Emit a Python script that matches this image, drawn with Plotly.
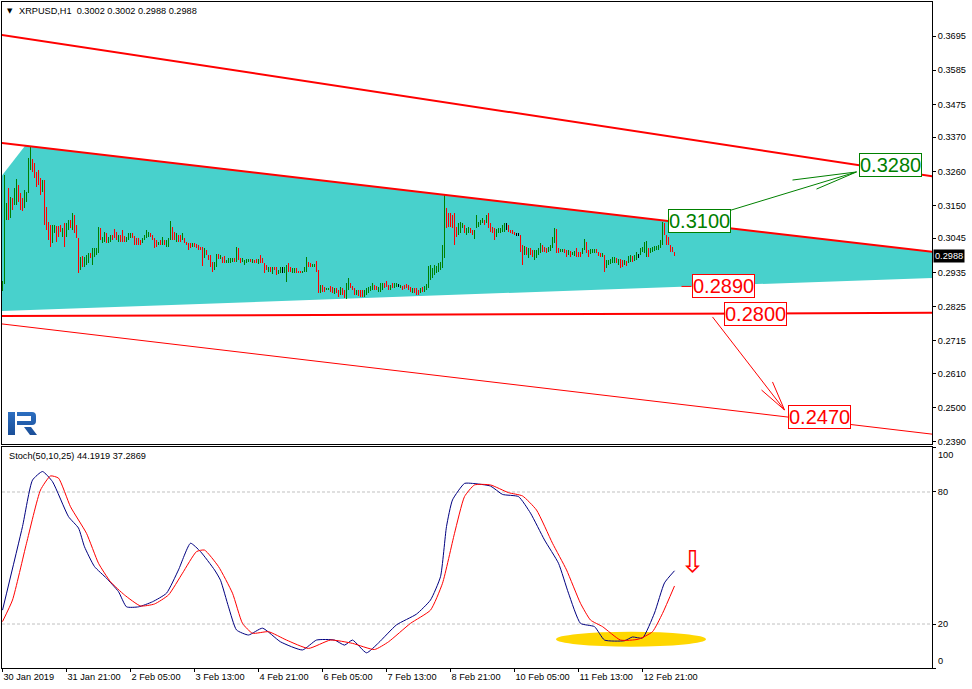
import base64
import plotly.graph_objects as go

# ---------------- data ----------------
# XRPUSD H1 bars, x = hours since 30 Jan 2019 13:00
bar_high = [
    0.2909, 0.3248, 0.3157, 0.3205, 0.3179, 0.3173, 0.3205, 0.3235, 0.3216, 0.3189,
    0.3173, 0.3200, 0.3195, 0.3302, 0.3339, 0.3299, 0.3286, 0.3259, 0.3264, 0.3238,
    0.3232, 0.3232, 0.3146, 0.3098, 0.3088, 0.3088, 0.3088, 0.3084, 0.3084, 0.3088,
    0.3077, 0.3093, 0.3093, 0.3104, 0.3104, 0.3125, 0.3120, 0.3088, 0.3045, 0.2986,
    0.2988, 0.2986, 0.2991, 0.2996, 0.2996, 0.3013, 0.3013, 0.3013, 0.3082, 0.3077,
    0.3050, 0.3066, 0.3061, 0.3050, 0.3055, 0.3055, 0.3074, 0.3066, 0.3055, 0.3055,
    0.3071, 0.3052, 0.3050, 0.3061, 0.3061, 0.3063, 0.3052, 0.3045, 0.3045, 0.3039,
    0.3045, 0.3055, 0.3071, 0.3066, 0.3063, 0.3055, 0.3045, 0.3039, 0.3034, 0.3039,
    0.3050, 0.3039, 0.3039, 0.3045, 0.3100, 0.3082, 0.3066, 0.3061, 0.3055, 0.3055,
    0.3061, 0.3045, 0.3034, 0.3029, 0.3029, 0.3029, 0.3031, 0.3025, 0.3023, 0.3018,
    0.3018, 0.3013, 0.3007, 0.2991, 0.2991, 0.2970, 0.2970, 0.2994, 0.2994, 0.2991,
    0.2986, 0.2988, 0.2975, 0.2980, 0.2980, 0.2980, 0.2980, 0.3018, 0.3013, 0.2980,
    0.2980, 0.2975, 0.2977, 0.2977, 0.2977, 0.2977, 0.2975, 0.2977, 0.2977, 0.2991,
    0.2980, 0.2966, 0.2959, 0.2954, 0.2954, 0.2954, 0.2954, 0.2954, 0.2943, 0.2954,
    0.2954, 0.2954, 0.2959, 0.2966, 0.2954, 0.2948, 0.2948, 0.2948, 0.2941, 0.2941,
    0.2941, 0.2954, 0.2986, 0.2970, 0.2964, 0.2962, 0.2962, 0.2973, 0.2943, 0.2895,
    0.2895, 0.2889, 0.2884, 0.2884, 0.2891, 0.2887, 0.2884, 0.2884, 0.2879, 0.2887,
    0.2884, 0.2879, 0.2900, 0.2916, 0.2900, 0.2891, 0.2884, 0.2879, 0.2879, 0.2879,
    0.2879, 0.2877, 0.2884, 0.2887, 0.2891, 0.2900, 0.2895, 0.2891, 0.2889, 0.2900,
    0.2900, 0.2900, 0.2908, 0.2895, 0.2895, 0.2900, 0.2900, 0.2900, 0.2898, 0.2895,
    0.2891, 0.2895, 0.2898, 0.2895, 0.2887, 0.2884, 0.2884, 0.2884, 0.2879, 0.2884,
    0.2889, 0.2891, 0.2898, 0.2956, 0.2959, 0.2948, 0.2959, 0.2956, 0.2964, 0.2970,
    0.3023, 0.3184, 0.3141, 0.3125, 0.3125, 0.3120, 0.3125, 0.3082, 0.3093, 0.3098,
    0.3095, 0.3088, 0.3077, 0.3082, 0.3077, 0.3071, 0.3071, 0.3120, 0.3098, 0.3104,
    0.3109, 0.3104, 0.3120, 0.3125, 0.3093, 0.3082, 0.3077, 0.3074, 0.3077, 0.3077,
    0.3088, 0.3093, 0.3093, 0.3088, 0.3071, 0.3071, 0.3066, 0.3061, 0.3061, 0.3055,
    0.3023, 0.3020, 0.3018, 0.3013, 0.3013, 0.3007, 0.3007, 0.3007, 0.3013, 0.3029,
    0.3023, 0.3018, 0.3013, 0.3018, 0.3023, 0.3050, 0.3077, 0.3074, 0.3013, 0.3009,
    0.3009, 0.3009, 0.3007, 0.3007, 0.3005, 0.3002, 0.3005, 0.3013, 0.3002, 0.3002,
    0.3013, 0.3042, 0.3034, 0.3007, 0.3009, 0.3009, 0.3009, 0.3009, 0.3002, 0.2999,
    0.2997, 0.2991, 0.2975, 0.2975, 0.2977, 0.2984, 0.2984, 0.2980, 0.2977, 0.2977,
    0.2975, 0.2975, 0.2973, 0.2988, 0.2991, 0.2988, 0.2991, 0.3002, 0.2995, 0.3013,
    0.3018, 0.3034, 0.3037, 0.3013, 0.3013, 0.3018, 0.3020, 0.3020, 0.3023, 0.3039,
    0.3098, 0.3095, 0.3055, 0.3050, 0.3023, 0.3018, 0.3002,
]
bar_low = [
    0.2876, 0.2898, 0.3104, 0.3104, 0.3109, 0.3136, 0.3152, 0.3152, 0.3163, 0.3136,
    0.3133, 0.3141, 0.3163, 0.3189, 0.3264, 0.3259, 0.3238, 0.3211, 0.3216, 0.3184,
    0.3195, 0.3088, 0.3071, 0.3039, 0.3016, 0.3029, 0.3061, 0.3034, 0.3050, 0.3066,
    0.3050, 0.3016, 0.3048, 0.3071, 0.3077, 0.3071, 0.3061, 0.3045, 0.2932, 0.2943,
    0.2954, 0.2954, 0.2959, 0.2966, 0.2980, 0.2959, 0.2986, 0.2991, 0.2996, 0.3039,
    0.3029, 0.3034, 0.3029, 0.3029, 0.3034, 0.3039, 0.3045, 0.3039, 0.3034, 0.3034,
    0.3034, 0.3034, 0.3034, 0.3039, 0.3045, 0.3045, 0.3023, 0.3023, 0.3023, 0.3023,
    0.3029, 0.3039, 0.3045, 0.3050, 0.3050, 0.3039, 0.3013, 0.3018, 0.3023, 0.3023,
    0.3023, 0.3023, 0.3018, 0.3018, 0.3039, 0.3039, 0.3039, 0.3034, 0.3034, 0.3034,
    0.3039, 0.3029, 0.3023, 0.3007, 0.3013, 0.3018, 0.3018, 0.3013, 0.3007, 0.3007,
    0.2956, 0.2980, 0.2991, 0.2975, 0.2954, 0.2938, 0.2943, 0.2951, 0.2977, 0.2977,
    0.2966, 0.2966, 0.2966, 0.2966, 0.2966, 0.2969, 0.2970, 0.2970, 0.2975, 0.2966,
    0.2970, 0.2959, 0.2966, 0.2970, 0.2970, 0.2966, 0.2964, 0.2964, 0.2962, 0.2966,
    0.2964, 0.2934, 0.2943, 0.2938, 0.2938, 0.2930, 0.2943, 0.2927, 0.2930, 0.2932,
    0.2934, 0.2932, 0.2905, 0.2938, 0.2938, 0.2934, 0.2934, 0.2934, 0.2934, 0.2932,
    0.2934, 0.2938, 0.2938, 0.2951, 0.2951, 0.2951, 0.2951, 0.2938, 0.2868, 0.2870,
    0.2873, 0.2873, 0.2879, 0.2879, 0.2873, 0.2868, 0.2866, 0.2868, 0.2857, 0.2863,
    0.2863, 0.2852, 0.2849, 0.2879, 0.2884, 0.2879, 0.2863, 0.2863, 0.2859, 0.2857,
    0.2857, 0.2857, 0.2863, 0.2870, 0.2876, 0.2879, 0.2879, 0.2879, 0.2873, 0.2873,
    0.2879, 0.2884, 0.2889, 0.2879, 0.2879, 0.2884, 0.2884, 0.2889, 0.2889, 0.2884,
    0.2879, 0.2881, 0.2884, 0.2879, 0.2873, 0.2868, 0.2868, 0.2863, 0.2863, 0.2868,
    0.2873, 0.2873, 0.2879, 0.2884, 0.2911, 0.2916, 0.2927, 0.2934, 0.2938, 0.2943,
    0.2948, 0.2980, 0.3077, 0.3082, 0.3082, 0.3077, 0.3023, 0.3050, 0.3055, 0.3061,
    0.3077, 0.3061, 0.3055, 0.3061, 0.3061, 0.3055, 0.3041, 0.3077, 0.3082, 0.3088,
    0.3093, 0.3088, 0.3093, 0.3077, 0.3066, 0.3061, 0.3039, 0.3050, 0.3061, 0.3063,
    0.3066, 0.3066, 0.3071, 0.3066, 0.3061, 0.3059, 0.3055, 0.3055, 0.3055, 0.3002,
    0.2959, 0.2991, 0.2991, 0.2980, 0.2991, 0.2986, 0.2975, 0.2980, 0.2991, 0.2999,
    0.3002, 0.3002, 0.2996, 0.3002, 0.3005, 0.3013, 0.3029, 0.2996, 0.2996, 0.3002,
    0.3002, 0.2996, 0.2984, 0.2991, 0.2986, 0.2991, 0.2988, 0.2986, 0.2984, 0.2986,
    0.2995, 0.3007, 0.2996, 0.2984, 0.2995, 0.2998, 0.2998, 0.2996, 0.2988, 0.2986,
    0.2984, 0.2938, 0.2948, 0.2959, 0.2962, 0.2966, 0.2966, 0.2964, 0.2959, 0.2948,
    0.2954, 0.2959, 0.2956, 0.2966, 0.2970, 0.2970, 0.2972, 0.2975, 0.2980, 0.2991,
    0.3002, 0.2996, 0.2986, 0.2986, 0.2999, 0.3002, 0.3005, 0.3007, 0.3007, 0.3013,
    0.3023, 0.3055, 0.3023, 0.3023, 0.3002, 0.3002, 0.2988,
]
# u = bull bar, d = bear bar, n = unchanged
bar_dir = "".join([
    "uuududuudd", "duuuuddddd", "udddduuddd", "uduududddu", "duuuduuuud",
    "uuduudddud", "dduuuddddd", "uuuuddddud", "uduuuddudd", "uddddudddd",
    "dudddduudu", "dduuuududd", "uuuududdud", "dddududduu", "nuudduuddd",
    "uuudduuddu", "dduu",
    "dduddudduu", "ddduddduuu", "uudduuuddd", "uduunudddd", "duddduduuu",
    "uuuuuuuudd", "dddduuuduu", "dduuuuudud", "ddduuuuund", "dddnnddudu",
    "dduuuudddu", "uuudduuddu", "duuddduudd", "uuuddduduu", "uuududdudu",
    "uduunuuuud", "uuuuuuuddd", "ddd",
])
bar_hours = list(range(len(bar_high)))
last_bar = {"open": 0.3002, "high": 0.3002, "low": 0.2988, "close": 0.2988}

x_tick_hours = [0, 32, 64, 96, 128, 160, 192, 224, 256, 288, 320]
x_tick_text = ["30 Jan 2019", "31 Jan 21:00", "2 Feb 05:00", "3 Feb 13:00", "4 Feb 21:00",
               "6 Feb 05:00", "7 Feb 13:00", "8 Feb 21:00", "10 Feb 05:00", "11 Feb 13:00",
               "12 Feb 21:00"]
price_ticks = [0.3695, 0.3585, 0.3475, 0.3370, 0.3260, 0.3150, 0.3045,
               0.2935, 0.2825, 0.2715, 0.2610, 0.2500, 0.2390]

# chart objects (hour, price)
triangle_hours = [-54.4, 11.4, 550.6]
triangle_prices = [0.2799, 0.3343, 0.2937]
line_channel_top = ([-1, 465], [0.3699, 0.3244])
line_triangle_top = ([-1, 465], [0.3352, 0.3001])
line_level_2800 = ([-1, 465], [0.2795, 0.2805])
line_channel_bottom = ([-1, 465], [0.2770, 0.2415])
line_label_2890 = ([339.5, 344.5], [0.2890, 0.2890])
arrow_up = ([359.5, 427, None, 395, 427, None, 407, 427],
            [0.3126, 0.3258, None, 0.3232, 0.3258, None, 0.3203, 0.3258])
arrow_down = ([355, 391, None, 379.5, 391, None, 385, 391],
              [0.2792, 0.2493, None, 0.2557, 0.2493, None, 0.2583, 0.2493])
target_labels = ["0.3280", "0.3100", "0.2890", "0.2800", "0.2470"]
target_hours = [443.75, 348.5, 360.25, 376.5, 408.5]
target_prices = [0.3280, 0.3100, 0.2890, 0.2800, 0.2470]
target_colors = ["#008000", "#008000", "#FF0000", "#FF0000", "#FF0000"]

# Stochastic (50,10,25)
stoch_main_hours = [0, 10, 15, 20, 25, 33, 38, 41, 46, 52, 58, 62, 68, 75, 82, 88, 94, 99, 106, 109,
                    113, 117, 123, 130, 139, 150, 157, 166, 171, 175, 182, 188, 197, 207, 214,
                    219, 222, 225, 231, 235, 244, 250, 258, 264, 271, 278, 283, 289, 296, 301,
                    311, 315, 320, 326, 331, 336]
stoch_main_vals = [26.3, 64.3, 85.4, 89.3, 84.7, 68.8, 63.6, 55.1, 46.1, 40.8, 34.7, 27.8, 27.8,
                   30.1, 34.0, 44.6, 56.7, 52.9, 44.6, 39.9, 27.8, 17.3, 15.0, 18.1, 11.9, 8.2,
                   12.7, 12.7, 10.4, 12.7, 6.9, 11.4, 19.6, 24.5, 30.9, 41.5, 64.3, 76.4, 83.9,
                   83.9, 82.7, 78.9, 77.9, 70.4, 58.2, 47.6, 34.0, 20.3, 18.8, 12.7, 12.4, 14.1,
                   13.6, 25.0, 38.7, 44.1919]
stoch_sig_hours = [0, 5, 12, 19, 24, 28, 34, 42, 48, 54, 61, 69, 76, 83, 90, 97, 101, 108, 115, 120,
                   125, 133, 142, 153, 164, 175, 186, 193, 204, 214, 220, 226, 231, 236, 244,
                   253, 260, 267, 275, 282, 289, 294, 300, 309, 318, 325, 330, 336]
stoch_sig_vals = [21.1, 30.9, 56.7, 80.9, 87.3, 86.3, 73.3, 61.2, 47.6, 39.2, 33.2, 28.2, 29.1,
                  33.2, 43.1, 52.9, 53.6, 46.1, 34.0, 20.3, 15.8, 16.5, 12.7, 8.9, 12.7, 11.2,
                  8.4, 11.9, 20.3, 26.3, 38.5, 61.2, 77.9, 83.2, 83.2, 79.7, 78.2, 71.8, 56.7,
                  44.6, 29.4, 21.8, 18.8, 12.7, 13.1, 16.5, 24.8, 37.2869]
stoch_levels = [20, 80]
stoch_ticks = [0, 20, 80, 100]
ellipse_hours = [276.75, 351.75]
ellipse_vals = [9.7, 16.5]
sell_arrow = (344.75, 48.4)

# ---------------- layout helpers ----------------
W, H = 972, 689
ML, MR, MT, MB = 2, 40, 2, 21
PW, PH = W - ML - MR, H - MT - MB


def px_x(px):
    return (px - ML) / PW


def px_y(py):
    return (H - MB - py) / PH


FONT = "Liberation Sans, Arial, sans-serif"
TICKFONT = dict(family=FONT, size=9.2, color="black")
assert len(bar_high) == len(bar_low) == len(bar_dir)

colors = {"u": "#008000", "d": "#FF0000", "n": "#000000"}
fig = go.Figure()

# bars
fig.add_trace(go.Bar(x=bar_hours, y=[h - l for h, l in zip(bar_high, bar_low)], base=bar_low,
                     width=0.5, marker=dict(color=[colors[c] for c in bar_dir], line=dict(width=0)),
                     xaxis="x2", yaxis="y2", hoverinfo="skip"))
# lines
for (lx, ly), w in [(line_channel_top, 2), (line_triangle_top, 2), (line_level_2800, 2),
                    (line_channel_bottom, 1), (line_label_2890, 1)]:
    fig.add_trace(go.Scatter(x=lx, y=ly, mode="lines", line=dict(color="#FF0000", width=w),
                             xaxis="x2", yaxis="y2", hoverinfo="skip"))
fig.add_trace(go.Scatter(x=arrow_up[0], y=arrow_up[1], mode="lines",
                         line=dict(color="#008000", width=1), xaxis="x2", yaxis="y2"))
fig.add_trace(go.Scatter(x=arrow_down[0], y=arrow_down[1], mode="lines",
                         line=dict(color="#FF0000", width=1), xaxis="x2", yaxis="y2"))

# stochastic
fig.add_trace(go.Scatter(x=stoch_main_hours, y=stoch_main_vals, mode="lines",
                         line=dict(color="#000080", width=1, shape="spline", smoothing=0.5),
                         xaxis="x", yaxis="y"))
fig.add_trace(go.Scatter(x=stoch_sig_hours, y=stoch_sig_vals, mode="lines",
                         line=dict(color="#FF0000", width=1, shape="spline", smoothing=0.5),
                         xaxis="x", yaxis="y"))

shapes = []
# triangle object (background) and bid line
tri_path = "M %s Z" % " L ".join("%g,%g" % (tx, ty) for tx, ty in zip(triangle_hours, triangle_prices))
shapes.append(dict(type="path", xref="x2", yref="y2", path=tri_path, fillcolor="#48D1CC",
                   line=dict(width=0), layer="below"))
shapes.append(dict(type="line", xref="x2 domain", yref="y2", x0=0, x1=1, y0=last_bar["close"],
                   y1=last_bar["close"], line=dict(color="#C0C0C0", width=1), layer="below"))
for lv in stoch_levels:
    shapes.append(dict(type="line", xref="x domain", yref="y", x0=0, x1=1, y0=lv, y1=lv,
                       line=dict(color="#C0C0C0", width=1, dash="3px,2px"), layer="below"))
shapes.append(dict(type="circle", xref="x", yref="y", x0=ellipse_hours[0], x1=ellipse_hours[1],
                   y0=ellipse_vals[0], y1=ellipse_vals[1], fillcolor="#FFD700",
                   line=dict(width=0), layer="below"))

annotations = []
for t, hx, py, c in zip(target_labels, target_hours, target_prices, target_colors):
    annotations.append(dict(text=t, x=hx, y=py, xref="x2", yref="y2", showarrow=False,
                            font=dict(family=FONT, size=20, color=c), bgcolor="white",
                            bordercolor=c, borderwidth=1, borderpad=0,
                            xanchor="center", yanchor="middle"))
annotations.append(dict(text="\u21e9", x=sell_arrow[0], y=sell_arrow[1], xref="x", yref="y",
                        showarrow=False, font=dict(family="DejaVu Sans", size=30, color="#FF0000")))
annotations.append(dict(text="XRPUSD,H1\u00a0\u00a0%.4f %.4f %.4f %.4f" % (
    last_bar["open"], last_bar["high"], last_bar["low"], last_bar["close"]),
    x=px_x(17), y=px_y(10.5), xref="paper", yref="paper", showarrow=False,
    xanchor="left", yanchor="middle", font=TICKFONT))
annotations.append(dict(text="\u25bc", x=px_x(9.5), y=px_y(10.5), xref="paper", yref="paper",
                        showarrow=False, xanchor="center", yanchor="middle",
                        font=dict(family="DejaVu Sans", size=7, color="black")))
annotations.append(dict(text="Stoch(50,10,25) %.4f %.4f" % (stoch_main_vals[-1], stoch_sig_vals[-1]),
                        x=px_x(7), y=px_y(456), xref="paper", yref="paper", showarrow=False,
                        xanchor="left", yanchor="middle", font=TICKFONT))
annotations.append(dict(text="%.4f" % last_bar["close"], x=1, y=last_bar["close"], xref="paper",
                        yref="y2", showarrow=False, xanchor="left", yanchor="middle", xshift=1,
                        bgcolor="black", borderpad=1,
                        font=dict(family=FONT, size=9.2, color="white")))
annotations.append(dict(text="100", x=1, y=100, xref="paper", yref="y", showarrow=False,
                        xanchor="left", yanchor="top", xshift=4, font=TICKFONT))
annotations.append(dict(text="0", x=1, y=0, xref="paper", yref="y", showarrow=False,
                        xanchor="left", yanchor="bottom", xshift=4, font=TICKFONT))

svg = ("<svg xmlns='http://www.w3.org/2000/svg' width='31' height='26' viewBox='0 0 31 26'>"
       "<defs><linearGradient id='g' x1='0' y1='0' x2='0' y2='1'>"
       "<stop offset='0' stop-color='#2C6EC0'/><stop offset='1' stop-color='#1A4E98'/>"
       "</linearGradient></defs>"
       "<path fill='url(#g)' d='M1 2H8V25H1Z M10 2H25Q29 2 29 6V11Q29 15 25 15H10V11H24V6H10Z "
       "M17 17H24L30 25H23Z'/></svg>")
logo_src = "data:image/svg+xml;base64," + base64.b64encode(svg.encode()).decode()

axis_common = dict(showline=True, mirror=True, linecolor="black", linewidth=1, showgrid=False,
                   zeroline=False, ticks="outside", ticklen=3, tickcolor="black", tickfont=TICKFONT,
                   automargin=False)

fig.update_layout(
    width=W, height=H, margin=dict(l=ML, r=MR, t=MT, b=MB, autoexpand=False),
    paper_bgcolor="white", plot_bgcolor="white", showlegend=False,
    xaxis=dict(range=[-0.25, 464.75], domain=[0, 1], anchor="y", tickvals=x_tick_hours,
               ticktext=x_tick_text, ticklabelposition="outside right", **axis_common),
    xaxis2=dict(range=[-0.25, 464.75], domain=[0, 1], anchor="y2", matches="x",
                showticklabels=False, **{k: v for k, v in axis_common.items() if k != "ticks"},
                ticks=""),
    yaxis=dict(range=[0, 100.45], domain=[0, px_y(447)], anchor="x", side="right",
               tickvals=stoch_ticks, ticktext=["", "20", "80", ""], **axis_common),
    yaxis2=dict(range=[0.23835, 0.38043], domain=[px_y(444), 1], anchor="x2", side="right",
                tickvals=price_ticks, ticktext=["%.4f" % v for v in price_ticks], **axis_common),
    shapes=shapes, annotations=annotations,
    images=[dict(source=logo_src, xref="paper", yref="paper", x=px_x(7), y=px_y(410),
                 sizex=31 / PW, sizey=26 / PH, xanchor="left", yanchor="top",
                 sizing="stretch", layer="above")],
    bargap=0,
)
fig.write_html("out.html", config={"displayModeBar": False},
               post_script="document.body.style.margin='0';document.body.style.overflow='hidden';")
